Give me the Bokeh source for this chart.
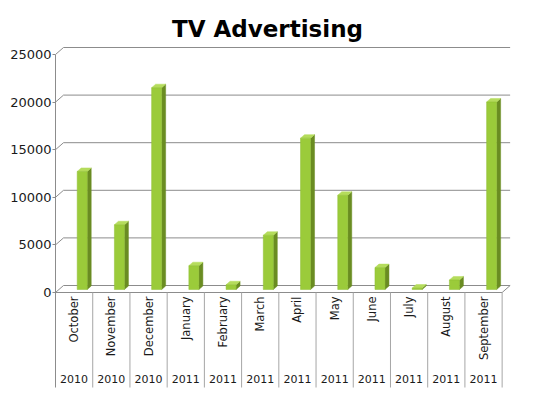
import math
from bokeh.plotting import figure
from bokeh.models import Range1d, FixedTicker
from bokeh.core.properties import value
from bokeh.embed import file_html
from bokeh.resources import INLINE

# ---- data ----
months = ["October", "November", "December", "January", "February", "March",
          "April", "May", "June", "July", "August", "September"]
years = ["2010", "2010", "2010", "2011", "2011", "2011",
         "2011", "2011", "2011", "2011", "2011", "2011"]
spend = [12400, 6800, 21200, 2500, 500, 5700, 15900, 9900, 2300, 150, 1000, 19700]
y_ticks = [0, 5000, 10000, 15000, 20000, 25000]
title_text = "TV Advertising"

# ---- geometry (3D look) ----
PX_X = 37.22          # px per category
PX_Y = 0.00952        # px per value unit
DX = 8 / PX_X         # depth offset x
DY = 7 / PX_Y         # depth offset y
BASE = 3 / PX_Y       # bar base at mid depth
BAR_L = 0.583
BAR_W = 0.269
SIDE_X = 4 / PX_X
TOP_Y = 3.5 / PX_Y

W, H = 533, 394
LEFT = 55
ZERO_Y = 292
n = len(months)
y_start = (ZERO_Y - H) / PX_Y
y_end = ZERO_Y / PX_Y
x_end = (W - LEFT) / PX_X
table_bottom = (ZERO_Y - 387) / PX_Y

p = figure(width=W, height=H, output_backend="svg", toolbar_location=None,
           x_range=Range1d(0, x_end), y_range=Range1d(y_start, y_end),
           x_axis_location=None, min_border_left=LEFT, min_border_right=0,
           min_border_top=0, min_border_bottom=0)
p.outline_line_color = None
p.grid.visible = False
p.background_fill_color = "white"

grid_color = "#8c8c8c"

# back wall gridlines + side-wall diagonals
p.segment(x0=[DX] * len(y_ticks), x1=[n + DX] * len(y_ticks),
          y0=[t + DY for t in y_ticks], y1=[t + DY for t in y_ticks],
          line_color=grid_color, line_width=1)
p.segment(x0=[0] * len(y_ticks), x1=[DX] * len(y_ticks),
          y0=y_ticks, y1=[t + DY for t in y_ticks],
          line_color=grid_color, line_width=1)
# floor front edge and right edge
p.segment(x0=[0, n], x1=[n, n + DX], y0=[0, 0], y1=[0, DY],
          line_color=grid_color, line_width=1)

# table separators
p.segment(x0=list(range(1, n + 1)), x1=list(range(1, n + 1)),
          y0=[0] * n, y1=[table_bottom] * n,
          line_color="#a6a6a6", line_width=1)

# bars
lefts = [i + BAR_L for i in range(n)]
rights = [i + BAR_L + BAR_W for i in range(n)]
tops = [v + BASE for v in spend]
side_xs = [[r, r + SIDE_X, r + SIDE_X, r] for r in rights]
side_ys = [[BASE, BASE + TOP_Y, t + TOP_Y, t] for t in tops]
top_xs = [[l, l + SIDE_X, r + SIDE_X, r] for l, r in zip(lefts, rights)]
top_ys = [[t, t + TOP_Y, t + TOP_Y, t] for t in tops]
p.patches(xs=side_xs, ys=side_ys, fill_color="#6a8c22", line_color="#6a8c22", line_width=0.5)
p.patches(xs=top_xs, ys=top_ys, fill_color="#b5dc5c", line_color="#b5dc5c", line_width=0.5)
p.quad(left=lefts, right=rights, bottom=[BASE] * n, top=tops,
       fill_color="#9bcb3a", line_color="#8fbf32", line_width=0.5)

# month labels (vertical)
p.text(x=[i + 0.5 for i in range(n)], y=[-4 / PX_Y] * n, text=months,
       angle=math.pi / 2, text_align="right", text_baseline="middle",
       text_font=value("DejaVu Sans"), text_font_size="11.5px", text_color="#1a1a1a")
# year labels
p.text(x=[i + 0.5 for i in range(n)], y=[-86 / PX_Y] * n, text=years,
       text_align="center", text_baseline="middle",
       text_font=value("DejaVu Sans"), text_font_size="11px", text_color="#1a1a1a")
# title
p.text(x=[(267 - LEFT) / PX_X], y=[(ZERO_Y - 28) / PX_Y], text=[title_text],
       text_align="center", text_baseline="middle",
       text_font=value("DejaVu Sans"), text_font_style="bold",
       text_font_size="23px", text_color="black")

# y axis (front plane)
ax = p.yaxis[0]
ax.ticker = FixedTicker(ticks=y_ticks)
ax.bounds = (table_bottom, 25000)
ax.axis_line_color = grid_color
ax.major_tick_line_color = grid_color
ax.major_tick_out = 3
ax.major_tick_in = 0
ax.minor_tick_line_color = None
ax.major_label_standoff = 1
ax.major_label_text_font = "DejaVu Sans"
ax.major_label_text_font_size = "13px"
ax.major_label_text_color = "#1a1a1a"

open("out.html", "w").write(file_html(p, INLINE))
